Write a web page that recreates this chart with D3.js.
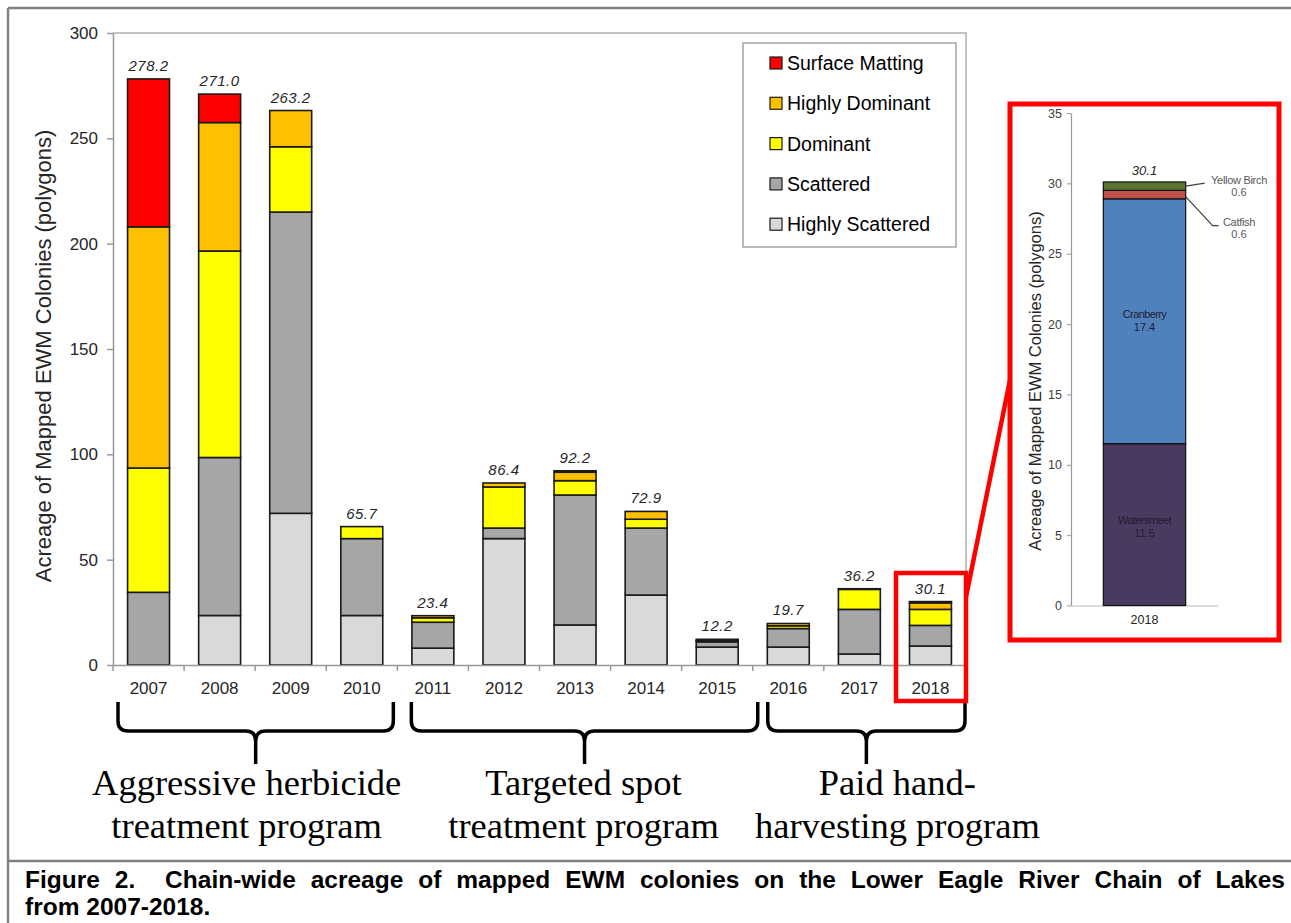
<!DOCTYPE html>
<html><head><meta charset="utf-8">
<script src="https://cdn.jsdelivr.net/npm/d3@7"></script>
<style>body{margin:0;background:#fff}svg{display:block}</style>
</head><body><svg id="c" width="1291" height="923"></svg>
<script>
// ---------- data ----------
const years = ["2007","2008","2009","2010","2011","2012","2013","2014","2015","2016","2017","2018"];
const seriesNames = ["Highly Scattered","Scattered","Dominant","Highly Dominant","Surface Matting"];
const highlyScattered = [0, 23.5, 72, 23.5, 8, 60, 19, 33.2, 8.5, 8.5, 5.2, 9];
const scattered       = [34.5, 75, 143, 36.5, 12.3, 5, 61.7, 31.8, 2.5, 8.8, 21.2, 9.8];
const dominant        = [59, 98, 31, 5.7, 2.1, 19.5, 6.8, 4.2, 0.7, 1.3, 9.5, 7.6];
const highlyDominant  = [114.5, 61, 17.2, 0, 1.0, 1.9, 4.0, 3.7, 0.5, 1.1, 0.3, 3.1];
const surfaceMatting  = [70.2, 13.5, 0, 0, 0, 0, 0.7, 0, 0, 0, 0, 0.6];
const yTicks = [0, 50, 100, 150, 200, 250, 300];

const groupLabels = [["Aggressive herbicide","treatment program"],["Targeted spot","treatment program"],["Paid hand-","harvesting program"]];
const groupFirst = ["2007","2011","2016"];
const groupLast  = ["2010","2015","2018"];

const insetYear = ["2018"];
const insetLakes = ["Watersmeet","Cranberry","Catfish","Yellow Birch"];
const insetValues = [11.5, 17.4, 0.6, 0.6];
const insetTicks = [0,5,10,15,20,25,30,35];

const caption1 = "Figure 2.  Chain-wide acreage of mapped EWM colonies on the Lower Eagle River Chain of Lakes";
const caption2 = "from 2007-2018.";
const yTitle = "Acreage of Mapped EWM Colonies (polygons)";

// ---------- setup ----------
const svg = d3.select("#c");
const SANS = "'Liberation Sans', Arial, sans-serif";
const SERIF = "'Liberation Serif', 'Times New Roman', serif";
const colors = {"Highly Scattered":"#d9d9d9","Scattered":"#a6a6a6","Dominant":"#ffff00","Highly Dominant":"#ffc000","Surface Matting":"#ff0000"};
const lakeColors = ["#4b3a5f","#4f81bd","#c0504d","#5c7331"];

// frame
svg.append("line").attr("x1",8).attr("y1",8).attr("x2",1291).attr("y2",8).attr("stroke","#808080").attr("stroke-width",2.5);
svg.append("line").attr("x1",8).attr("y1",8).attr("x2",8).attr("y2",923).attr("stroke","#808080").attr("stroke-width",2.5);
svg.append("line").attr("x1",8).attr("y1",861).attr("x2",1291).attr("y2",861).attr("stroke","#808080").attr("stroke-width",2.5);

// ---------- main chart ----------
const x = d3.scaleBand().domain(years).range([113, 966]).paddingInner(0.41).paddingOuter(0.205);
const y = d3.scaleLinear().domain([0, 300]).range([665, 33]);

const rows = years.map((yr, i) => ({year: yr,
  "Highly Scattered": highlyScattered[i], "Scattered": scattered[i], "Dominant": dominant[i],
  "Highly Dominant": highlyDominant[i], "Surface Matting": surfaceMatting[i]}));
const stacked = d3.stack().keys(seriesNames)(rows);

// plot frame (top/right)
svg.append("path").attr("d", `M113,${y(300)}H966V${y(0)}`).attr("fill","none").attr("stroke","#b0b0b0").attr("stroke-width",1.5);

// bars
stacked.forEach(layer => {
  svg.append("g").selectAll("rect").data(layer.filter(d => d[1] - d[0] > 0)).join("rect")
    .attr("x", d => x(d.data.year)).attr("width", x.bandwidth())
    .attr("y", d => y(d[1])).attr("height", d => y(d[0]) - y(d[1]))
    .attr("fill", colors[layer.key]).attr("stroke", "#1a1a1a").attr("stroke-width", 1.6);
});

// totals
svg.append("g").selectAll("text").data(rows).join("text")
  .attr("x", d => x(d.year) + x.bandwidth()/2)
  .attr("y", d => y(d3.sum(seriesNames, k => d[k])) - 8)
  .attr("text-anchor","middle").attr("font-family",SANS).attr("font-style","italic")
  .attr("font-size",15).attr("fill","#262626").attr("letter-spacing",0.5)
  .text(d => d3.sum(seriesNames, k => d[k]).toFixed(1));

// y axis
const gy = svg.append("g").attr("transform","translate(113,0)")
  .call(d3.axisLeft(y).tickValues(yTicks).tickSize(6).tickSizeOuter(0).tickPadding(9));
gy.select(".domain").attr("stroke","#999").attr("stroke-width",1.5);
gy.selectAll(".tick line").attr("stroke","#999").attr("stroke-width",1.5);
gy.selectAll(".tick text").attr("font-family",SANS).attr("font-size",17).attr("fill","#262626");

// x axis
const gx = svg.append("g").attr("transform",`translate(0,${y(0)})`)
  .call(d3.axisBottom(x).tickSize(0).tickPadding(17));
gx.select(".domain").attr("stroke","#999").attr("stroke-width",1.5);
gx.selectAll(".tick text").attr("font-family",SANS).attr("font-size",17).attr("fill","#262626");
svg.append("g").selectAll("line").data(d3.range(years.length + 1)).join("line")
  .attr("x1", i => 113 + i * x.step()).attr("x2", i => 113 + i * x.step())
  .attr("y1", y(0)).attr("y2", y(0) + 6).attr("stroke","#999").attr("stroke-width",1.5);

// y title
svg.append("text").attr("transform","translate(51,356) rotate(-90)").attr("text-anchor","middle")
  .attr("font-family",SANS).attr("font-size",22).attr("fill","#262626").text(yTitle);

// legend
const legendOrder = seriesNames.slice().reverse();
svg.append("rect").attr("x",743).attr("y",43).attr("width",213).attr("height",204)
  .attr("fill","#fff").attr("stroke","#8c8c8c").attr("stroke-width",1.2);
const lg = svg.append("g").selectAll("g").data(legendOrder).join("g")
  .attr("transform",(d,i) => `translate(770,${63 + i*40.3})`);
lg.append("rect").attr("x",0).attr("y",-6).attr("width",12).attr("height",12)
  .attr("fill",d => colors[d]).attr("stroke","#1a1a1a").attr("stroke-width",1.2);
lg.append("text").attr("x",17).attr("y",7).attr("font-family",SANS).attr("font-size",19.5)
  .attr("fill","#000").text(d => d);

// braces + group labels
function brace(x1, x2, tx, y0, y1, y2, r) {
  return `M${x1},${y0}L${x1},${y1-r}Q${x1},${y1} ${x1+r},${y1}L${tx-r},${y1}Q${tx},${y1} ${tx},${y1+r}L${tx},${y2}` +
         `M${x2},${y0}L${x2},${y1-r}Q${x2},${y1} ${x2-r},${y1}L${tx+r},${y1}Q${tx},${y1} ${tx},${y1+r}`;
}
const braceInsets = [[5,-4],[14,5],[15,-1]];
const textShift = [-9, -1, 31];
groupLabels.forEach((lines, gi) => {
  const bx1 = (gi===0 ? 113 : x(groupFirst[gi]) - (x.step()-x.bandwidth())/2) + braceInsets[gi][0];
  const bx2 = x(groupLast[gi]) + x.bandwidth() + (x.step()-x.bandwidth())/2 + braceInsets[gi][1];
  const tx = (bx1 + bx2) / 2;
  svg.append("path").attr("d", brace(bx1, bx2, tx, 702, 731, 764, 10))
    .attr("fill","none").attr("stroke","#000").attr("stroke-width",3.5).attr("stroke-linejoin","round");
  svg.append("text").attr("x", tx + textShift[gi]).attr("y",795).attr("text-anchor","middle")
    .attr("font-family",SERIF).attr("font-size",36.5).attr("fill","#000").text(lines[0]);
  svg.append("text").attr("x", tx + textShift[gi]).attr("y",838).attr("text-anchor","middle")
    .attr("font-family",SERIF).attr("font-size",36.5).attr("fill","#000").text(lines[1]);
});

// ---------- inset ----------
const xi = d3.scaleBand().domain(insetYear).range([1071, 1218]).paddingInner(0.44).paddingOuter(0.22);
const yi = d3.scaleLinear().domain([0, 35]).range([605.5, 113]);
let cum = 0;
const lakeSegs = insetValues.map((v, i) => { const s = {name: insetLakes[i], v, y0: cum, y1: cum + v, c: lakeColors[i]}; cum += v; return s; });

const giy = svg.append("g").attr("transform","translate(1071,0)")
  .call(d3.axisLeft(yi).tickValues(insetTicks).tickSize(4).tickSizeOuter(0).tickPadding(5));
giy.select(".domain").attr("stroke","#999").attr("stroke-width",1.2);
giy.selectAll(".tick line").attr("stroke","#999");
giy.selectAll(".tick text").attr("font-family",SANS).attr("font-size",12.5).attr("fill","#404040");
const gix = svg.append("g").attr("transform",`translate(0,${yi(0)})`)
  .call(d3.axisBottom(xi).tickSize(0).tickSizeOuter(0).tickPadding(10));
gix.select(".domain").attr("stroke","#bbb").attr("stroke-width",1.2);
gix.selectAll(".tick text").attr("font-family",SANS).attr("font-size",12.5).attr("fill","#262626");

svg.append("g").selectAll("rect").data(lakeSegs).join("rect")
  .attr("x", xi("2018")).attr("width", xi.bandwidth())
  .attr("y", d => yi(d.y1)).attr("height", d => yi(d.y0) - yi(d.y1))
  .attr("fill", d => d.c).attr("stroke","#111").attr("stroke-width",1.2);

const icx = xi("2018") + xi.bandwidth()/2;
svg.append("text").attr("x", icx).attr("y", yi(cum) - 7).attr("text-anchor","middle")
  .attr("font-family",SANS).attr("font-style","italic").attr("font-size",13).attr("fill","#262626")
  .text(cum.toFixed(1));
// labels inside
[lakeSegs[0], lakeSegs[1]].forEach((s, i) => {
  const cy = i === 0 ? yi(s.y0 + 5.8) : yi(s.y0 + 8.9);
  svg.append("text").attr("x", icx).attr("y", cy).attr("text-anchor","middle")
    .attr("font-family",SANS).attr("font-size",11).attr("letter-spacing",-0.6).attr("fill","#1f1d33").text(s.name);
  svg.append("text").attr("x", icx).attr("y", cy + 13).attr("text-anchor","middle")
    .attr("font-family",SANS).attr("font-size",11).attr("fill","#1f1d33").text(s.v.toFixed(1));
});
// outside labels with leaders
const right = xi("2018") + xi.bandwidth();
const yb = lakeSegs[3], cf = lakeSegs[2];
svg.append("path").attr("d", `M${right},${yi((yb.y0+yb.y1)/2)}L${right+19},${yi((yb.y0+yb.y1)/2)-3}`)
  .attr("stroke","#404040").attr("stroke-width",1.2).attr("fill","none");
svg.append("path").attr("d", `M${right},${yi((cf.y0+cf.y1)/2)+2}L${right+27},${yi((cf.y0+cf.y1)/2)+31}H${right+33}`)
  .attr("stroke","#404040").attr("stroke-width",1.2).attr("fill","none");
[[yb, 184], [cf, 226]].forEach(([s, ty]) => {
  svg.append("text").attr("x", 1239).attr("y", ty).attr("text-anchor","middle")
    .attr("font-family",SANS).attr("font-size",11).attr("letter-spacing",-0.3).attr("fill","#595959").text(s.name);
  svg.append("text").attr("x", 1239).attr("y", ty + 12).attr("text-anchor","middle")
    .attr("font-family",SANS).attr("font-size",11).attr("fill","#595959").text(s.v.toFixed(1));
});
svg.append("text").attr("transform","translate(1041,381) rotate(-90)").attr("text-anchor","middle")
  .attr("font-family",SANS).attr("font-size",16.5).attr("fill","#262626").text(yTitle);

// red highlight boxes and connector
svg.append("rect").attr("x",896).attr("y",573).attr("width",70).attr("height",128)
  .attr("fill","none").attr("stroke","#ff0000").attr("stroke-width",4.5);
svg.append("rect").attr("x",1010).attr("y",104).attr("width",269).attr("height",536)
  .attr("fill","none").attr("stroke","#ff0000").attr("stroke-width",5);
svg.append("line").attr("x1",966).attr("y1",597).attr("x2",1010).attr("y2",380)
  .attr("stroke","#ff0000").attr("stroke-width",4.5);

// caption (bold sans, justified first line)
let capSize = 24.5;
const c1 = svg.append("text").attr("x",25).attr("y",888).attr("font-family",SANS).attr("font-weight","bold")
  .attr("font-size",capSize).attr("fill","#000").style("white-space","pre").text(caption1);
let w = c1.node().getComputedTextLength();
if (w > 1240) { capSize = capSize * 1240 / w; c1.attr("font-size", capSize); w = c1.node().getComputedTextLength(); }
const gaps = caption1.split(" ").length - 1;
c1.attr("word-spacing", Math.max(0, (1260 - w) / gaps));
svg.append("text").attr("x",25).attr("y",915).attr("font-family",SANS).attr("font-weight","bold")
  .attr("font-size",capSize).attr("fill","#000").text(caption2);
</script></body></html>
